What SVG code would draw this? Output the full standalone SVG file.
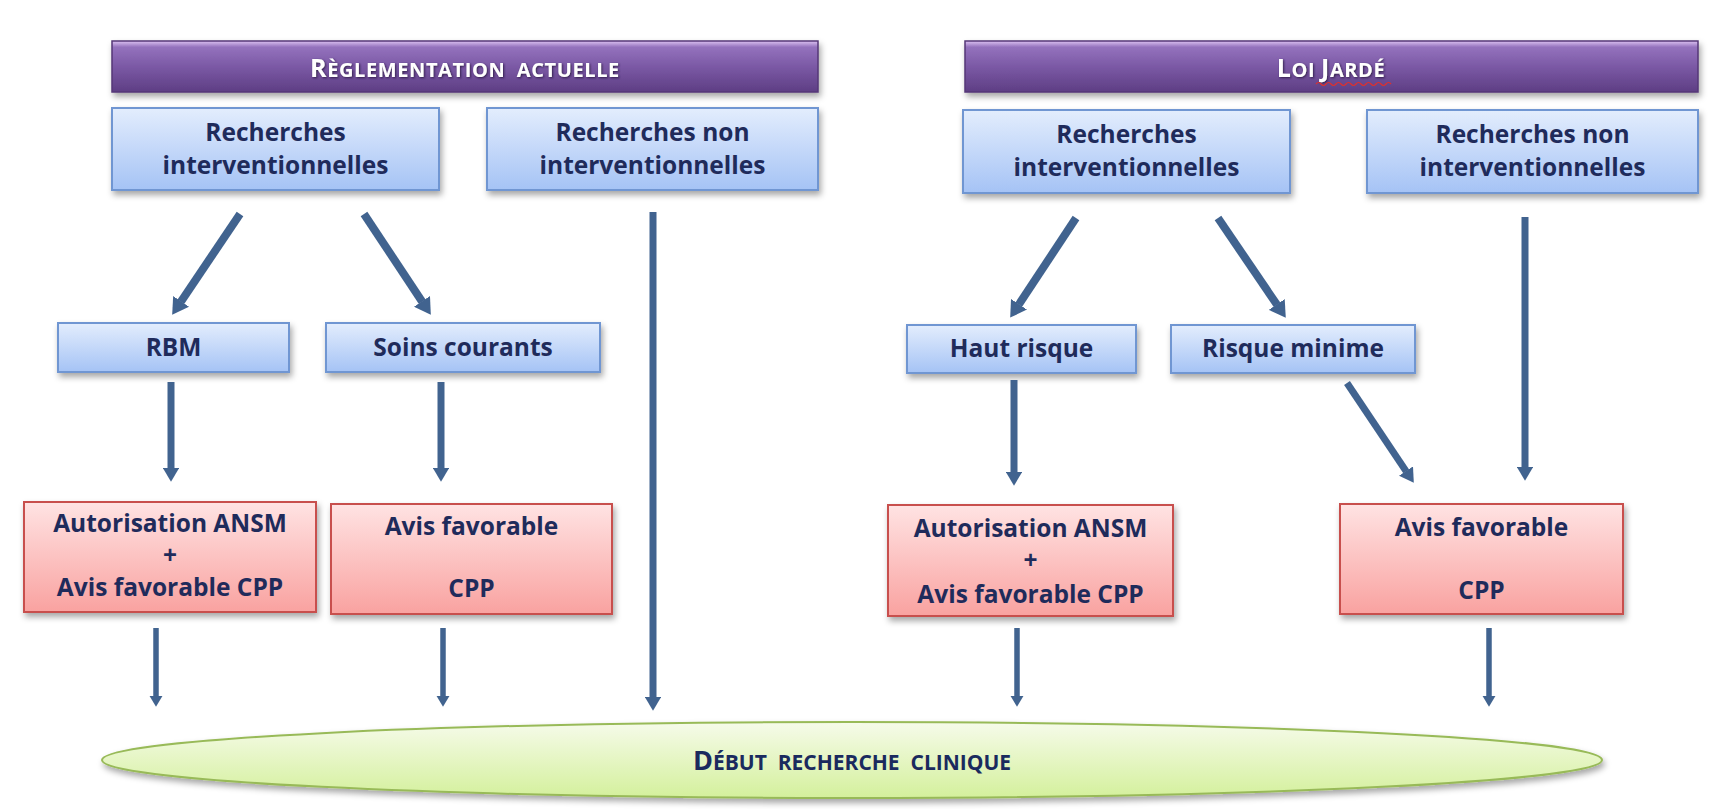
<svg xmlns="http://www.w3.org/2000/svg" width="1729" height="809" viewBox="0 0 1729 809">
  <defs>
    <linearGradient id="gPurple" x1="0" y1="0" x2="0" y2="1">
      <stop offset="0" stop-color="#dcc2f2"/>
      <stop offset="0.12" stop-color="#9472bd"/>
      <stop offset="0.5" stop-color="#7b59a5"/>
      <stop offset="1" stop-color="#5e3e84"/>
    </linearGradient>
    <linearGradient id="gBlue" x1="0" y1="0" x2="0" y2="1">
      <stop offset="0" stop-color="#e3edfd"/>
      <stop offset="1" stop-color="#a5c3f5"/>
    </linearGradient>
    <linearGradient id="gRed" x1="0" y1="0" x2="0" y2="1">
      <stop offset="0" stop-color="#ffe3e3"/>
      <stop offset="1" stop-color="#f9a2a0"/>
    </linearGradient>
    <linearGradient id="gGreen" x1="0" y1="0" x2="0" y2="1">
      <stop offset="0" stop-color="#f6fbea"/>
      <stop offset="1" stop-color="#d4f09c"/>
    </linearGradient>
    <filter id="shadow" x="-10%" y="-20%" width="120%" height="150%">
      <feDropShadow dx="2" dy="4" stdDeviation="3" flood-color="#000" flood-opacity="0.35"/>
    </filter>
    <filter id="txtShadow" x="-10%" y="-30%" width="120%" height="160%">
      <feDropShadow dx="1" dy="1" stdDeviation="1" flood-color="#2a1640" flood-opacity="0.9"/>
    </filter>
    <marker id="head" markerUnits="strokeWidth" markerWidth="2" markerHeight="2.4" viewBox="0 0 20 24" refX="0.5" refY="12" orient="auto">
      <path d="M0,0 L20,12 L0,24 z" fill="#41638f"/>
    </marker>
    <style>
      .hdr { fill: url(#gPurple); stroke: #553777; stroke-width: 1.5; filter: url(#shadow); }
      .blue { fill: url(#gBlue); stroke: #6f96d2; stroke-width: 2; filter: url(#shadow); }
      .red { fill: url(#gRed); stroke: #c8504e; stroke-width: 2; filter: url(#shadow); }
      .oval { fill: url(#gGreen); stroke: #98ba58; stroke-width: 2; filter: url(#shadow); }
      .t { font-family: "Open Sans", "DejaVu Sans", sans-serif; font-weight: 700; font-size: 24.5px; fill: #1f2b5b; text-anchor: middle; }
      .ht { font-family: "Open Sans", "DejaVu Sans", sans-serif; font-weight: 700; fill: #ffffff; text-anchor: middle; letter-spacing: 0.6px; filter: url(#txtShadow); }
      .ot { font-family: "Open Sans", "DejaVu Sans", sans-serif; font-weight: 700; fill: #1a2a5e; text-anchor: middle; }
      .big { font-size: 25px; }
      .sc { font-size: 20px; }
      .arr { stroke: #41638f; fill: none; marker-end: url(#head); }
    </style>
  </defs>

  <rect width="1729" height="809" fill="#ffffff"/>

  <!-- headers -->
  <g id="hdr-actuelle">
    <rect class="hdr" x="112" y="41" width="706" height="51"/>
    <text class="ht" x="465" y="77" xml:space="preserve"><tspan class="big">R</tspan><tspan class="sc">ÈGLEMENTATION  ACTUELLE</tspan></text>
  </g>
  <g id="hdr-jarde">
    <rect class="hdr" x="965" y="41" width="733" height="51"/>
    <text class="ht" x="1331" y="77"><tspan class="big">L</tspan><tspan class="sc">OI </tspan><tspan class="big">J</tspan><tspan class="sc">ARDÉ</tspan></text>
    <path d="M1316,84 q2.5,-3 5,0 t5,0 t5,0 t5,0 t5,0 t5,0 t5,0 t5,0 t5,0 t5,0 t5,0 t5,0 t5,0 t5,0 t5,0" fill="none" stroke="#e0302a" stroke-width="1.2"/>
  </g>

  <!-- left column: current rules -->
  <g id="l-interv">
    <rect class="blue" x="112" y="108" width="327" height="82"/>
    <text class="t" x="275.5" y="141">Recherches</text>
    <text class="t" x="275.5" y="174">interventionnelles</text>
  </g>
  <g id="l-noninterv">
    <rect class="blue" x="487" y="108" width="331" height="82"/>
    <text class="t" x="652.5" y="141">Recherches non</text>
    <text class="t" x="652.5" y="174">interventionnelles</text>
  </g>
  <g id="l-rbm">
    <rect class="blue" x="58" y="323" width="231" height="49"/>
    <text class="t" x="173.5" y="356">RBM</text>
  </g>
  <g id="l-soins">
    <rect class="blue" x="326" y="323" width="274" height="49"/>
    <text class="t" x="463" y="356">Soins courants</text>
  </g>
  <g id="l-ansm">
    <rect class="red" x="24" y="502" width="292" height="110"/>
    <text class="t" x="170" y="532">Autorisation ANSM</text>
    <text class="t" x="170" y="564">+</text>
    <text class="t" x="170" y="596">Avis favorable CPP</text>
  </g>
  <g id="l-cpp">
    <rect class="red" x="331" y="504" width="281" height="110"/>
    <text class="t" x="471.5" y="535">Avis favorable</text>
    <text class="t" x="471.5" y="597">CPP</text>
  </g>

  <!-- right column: Jardé law -->
  <g id="r-interv">
    <rect class="blue" x="963" y="110" width="327" height="83"/>
    <text class="t" x="1126.5" y="143">Recherches</text>
    <text class="t" x="1126.5" y="176">interventionnelles</text>
  </g>
  <g id="r-noninterv">
    <rect class="blue" x="1367" y="110" width="331" height="83"/>
    <text class="t" x="1532.5" y="143">Recherches non</text>
    <text class="t" x="1532.5" y="176">interventionnelles</text>
  </g>
  <g id="r-haut">
    <rect class="blue" x="907" y="325" width="229" height="48"/>
    <text class="t" x="1021.5" y="357">Haut risque</text>
  </g>
  <g id="r-minime">
    <rect class="blue" x="1171" y="325" width="244" height="48"/>
    <text class="t" x="1293" y="357">Risque minime</text>
  </g>
  <g id="r-ansm">
    <rect class="red" x="888" y="505" width="285" height="111"/>
    <text class="t" x="1030.5" y="537">Autorisation ANSM</text>
    <text class="t" x="1030.5" y="569">+</text>
    <text class="t" x="1030.5" y="603">Avis favorable CPP</text>
  </g>
  <g id="r-cpp">
    <rect class="red" x="1340" y="504" width="283" height="110"/>
    <text class="t" x="1481.5" y="536">Avis favorable</text>
    <text class="t" x="1481.5" y="599">CPP</text>
  </g>

  <!-- common outcome -->
  <g id="debut">
    <ellipse class="oval" cx="852" cy="760" rx="750" ry="38"/>
    <text class="ot" x="852" y="770" xml:space="preserve"><tspan font-size="27">D</tspan><tspan font-size="21">ÉBUT  RECHERCHE  CLINIQUE</tspan></text>
  </g>

  <!-- connectors -->
  <g id="connectors">
    <line class="arr" stroke-width="8" x1="240" y1="214" x2="180.9" y2="301.7"/>
    <line class="arr" stroke-width="8" x1="364" y1="214" x2="422.2" y2="301.7"/>
    <line class="arr" stroke-width="7" x1="653" y1="212" x2="653" y2="697"/>
    <line class="arr" stroke-width="7" x1="171" y1="382" x2="171" y2="468"/>
    <line class="arr" stroke-width="7" x1="441" y1="382" x2="441" y2="468"/>

    <line class="arr" stroke-width="8" x1="1076" y1="218" x2="1018.8" y2="304.6"/>
    <line class="arr" stroke-width="8" x1="1218" y1="218" x2="1277" y2="304.8"/>
    <line class="arr" stroke-width="7" x1="1525" y1="217" x2="1525" y2="467"/>
    <line class="arr" stroke-width="7" x1="1014" y1="380" x2="1014" y2="472"/>
    <line class="arr" stroke-width="7" x1="1347" y1="383" x2="1406.2" y2="471.4"/>

    <line class="arr" stroke-width="5.5" x1="156" y1="628" x2="156" y2="696"/>
    <line class="arr" stroke-width="5.5" x1="443" y1="628" x2="443" y2="696"/>
    <line class="arr" stroke-width="5.5" x1="1017" y1="628" x2="1017" y2="696"/>
    <line class="arr" stroke-width="5.5" x1="1489" y1="628" x2="1489" y2="696"/>
  </g>
</svg>
